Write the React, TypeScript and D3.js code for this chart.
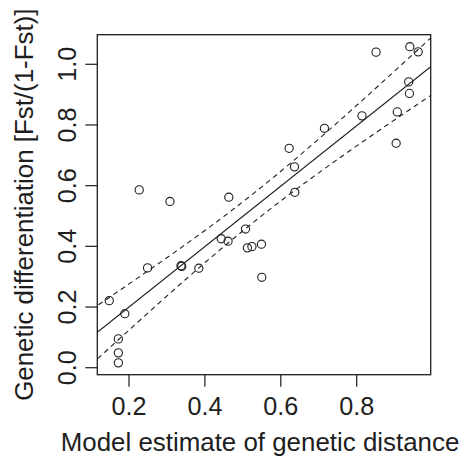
import React from "react";
import * as d3 from "d3";

// Data
const modelDistance = [
  0.148, 0.249, 0.337, 0.339, 0.384, 0.189, 0.172, 0.172, 0.172,
  0.463, 0.637, 0.507, 0.443, 0.461, 0.512, 0.524, 0.549, 0.550,
  0.227, 0.308, 0.622, 0.636, 0.851, 0.940, 0.962, 0.937, 0.939,
  0.907, 0.904, 0.814, 0.715,
];
const geneticDiff = [
  0.221, 0.329, 0.336, 0.334, 0.328, 0.178, 0.095, 0.049, 0.016,
  0.562, 0.578, 0.457, 0.425, 0.417, 0.395, 0.399, 0.407, 0.298,
  0.586, 0.548, 0.723, 0.662, 1.040, 1.058, 1.041, 0.942, 0.904,
  0.843, 0.740, 0.830, 0.789,
];
const xTicks = [0.2, 0.4, 0.6, 0.8];
const yTicks = [0.0, 0.2, 0.4, 0.6, 0.8, 1.0];
const xTitle = "Model estimate of genetic distance";
const yTitle = "Genetic differentiation [Fst/(1-Fst)]";

const W = 468;
const H = 458;
const left = 97.3, right = 430.7, top = 34.7, bottom = 374.7;
const FONT = "'Liberation Sans', Arial, Helvetica, sans-serif";
const INK = "#1e1e1e";

export default function App() {
  const x = d3.scaleLinear().domain([0.1165, 0.995]).range([left, right]);
  const y = d3.scaleLinear().domain([-0.023, 1.0975]).range([bottom, top]);

  // linear regression and 95% confidence band from the data
  const n = modelDistance.length;
  const mx = d3.mean(modelDistance) as number;
  const my = d3.mean(geneticDiff) as number;
  let sxx = 0, sxy = 0;
  for (let i = 0; i < n; i++) {
    sxx += (modelDistance[i] - mx) ** 2;
    sxy += (modelDistance[i] - mx) * (geneticDiff[i] - my);
  }
  const b = sxy / sxx;
  const a = my - b * mx;
  let sse = 0;
  for (let i = 0; i < n; i++) sse += (geneticDiff[i] - a - b * modelDistance[i]) ** 2;
  const s = Math.sqrt(sse / (n - 2));
  const tq = 2.045;
  const xs = d3.range(0, 101).map((i) => 0.1 + (i / 100) * 0.92);
  const band = (sign: number) =>
    xs.map((xv) => {
      const fit = a + b * xv;
      const hw = tq * s * Math.sqrt(1 / n + (xv - mx) ** 2 / sxx);
      return [xv, fit + sign * hw] as [number, number];
    });
  const line = d3
    .line<[number, number]>()
    .x((d) => x(d[0]))
    .y((d) => y(d[1]));
  const fitLine: [number, number][] = [
    [0.1, a + b * 0.1],
    [1.02, a + b * 1.02],
  ];

  return (
    <svg
      width={W}
      height={H}
      style={{ position: "absolute", left: 0, top: 0, background: "#fff" }}
      fontFamily={FONT}
    >
      <defs>
        <clipPath id="plotclip">
          <rect x={left} y={top} width={right - left} height={bottom - top} />
        </clipPath>
      </defs>
      <g clipPath="url(#plotclip)" fill="none" stroke={INK} strokeWidth={1.1}>
        <path d={line(fitLine) || ""} />
        <path d={line(band(1)) || ""} strokeDasharray="5,4" />
        <path d={line(band(-1)) || ""} strokeDasharray="5,4" />
      </g>
      {modelDistance.map((xv, i) => (
        <circle
          key={i}
          cx={x(xv)}
          cy={y(geneticDiff[i])}
          r={4.1}
          fill="none"
          stroke={INK}
          strokeWidth={1.1}
        />
      ))}
      <rect
        x={left}
        y={top}
        width={right - left}
        height={bottom - top}
        fill="none"
        stroke={INK}
        strokeWidth={1.3}
      />
      {xTicks.map((t) => (
        <g key={"x" + t}>
          <line x1={x(t)} x2={x(t)} y1={bottom} y2={bottom + 12} stroke={INK} strokeWidth={1.2} />
          <text x={x(t)} y={415} textAnchor="middle" fontSize={25.2} fill={INK}>
            {t.toFixed(1)}
          </text>
        </g>
      ))}
      {yTicks.map((t) => (
        <g key={"y" + t}>
          <line x1={left - 12} x2={left} y1={y(t)} y2={y(t)} stroke={INK} strokeWidth={1.2} />
          <text
            transform={`translate(76,${y(t)}) rotate(-90)`}
            textAnchor="middle"
            fontSize={25.2}
            fill={INK}
          >
            {t.toFixed(1)}
          </text>
        </g>
      ))}
      <text x={260} y={451} textAnchor="middle" fontSize={25.9} fill={INK}>
        {xTitle}
      </text>
      <text
        transform={`translate(33,${(top + bottom) / 2}) rotate(-90)`}
        textAnchor="middle"
        fontSize={25.9}
        fill={INK}
      >
        {yTitle}
      </text>
    </svg>
  );
}
